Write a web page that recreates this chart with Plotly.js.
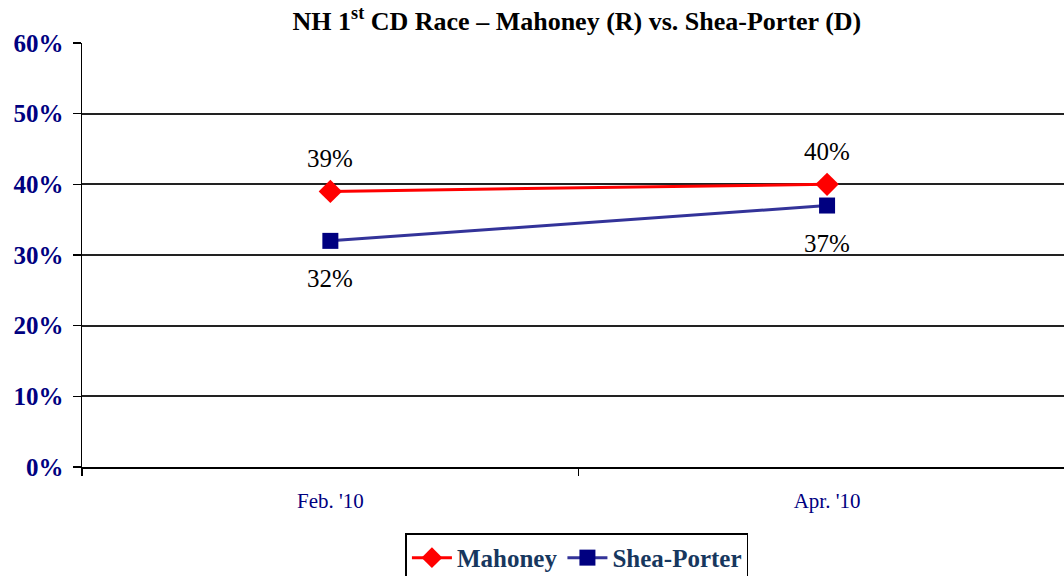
<!DOCTYPE html>
<html><head><meta charset="utf-8">
<script src="https://cdn.plot.ly/plotly-3.0.1.min.js"></script>
<style>body{margin:0;background:#fff}#c{width:1064px;height:576px}</style>
</head><body><div id="c"></div>
<script>
var categories = ["Feb. '10", "Apr. '10"];
var mahoney = [39, 40];
var sheaPorter = [32, 37];
var yTicks = [0, 10, 20, 30, 40, 50, 60];
var yTickLabels = ["0%", "10%", "20%", "30%", "40%", "50%", "60%"];

var FONT = "Liberation Serif";
var xIdx = categories.map(function(_, i){ return i; });
var fmt = function(v){ return v + "%"; };

var traces = [
  {x: xIdx, y: mahoney, name: "Mahoney", type: "scatter", mode: "lines+markers",
   line: {color: "#FF0000", width: 3},
   marker: {symbol: "diamond", size: 18, color: "#FF0000"}},
  {x: xIdx, y: sheaPorter, name: "Shea-Porter", type: "scatter", mode: "lines+markers",
   line: {color: "#333399", width: 3},
   marker: {symbol: "square", size: 16, color: "#000080"}}
];

var labelFont = {family: FONT, size: 25, color: "#000"};
var annotations = [];
mahoney.forEach(function(v, i){
  annotations.push({x: xIdx[i], y: v, xref: "x", yref: "y", text: fmt(v), showarrow: false,
                    yshift: 33, font: labelFont});
});
sheaPorter.forEach(function(v, i){
  annotations.push({x: xIdx[i], y: v, xref: "x", yref: "y", text: fmt(v), showarrow: false,
                    yshift: -38, font: labelFont});
});

var layout = {
  width: 1064, height: 576,
  margin: {l: 82, r: 0, t: 43, b: 109},
  paper_bgcolor: "#fff", plot_bgcolor: "#fff",
  hovermode: false,
  annotations: annotations,
  title: {text: "NH 1<sup>st</sup> CD Race – Mahoney (R) vs. Shea-Porter (D)",
          font: {family: FONT, size: 26, color: "#000", weight: "bold"},
          xref: "paper", x: 0.504, xanchor: "center", yref: "container", y: 0.963, yanchor: "middle"},
  xaxis: {range: [-0.5, 1.477], tickvals: xIdx, ticktext: categories,
          showgrid: false, zeroline: false, showline: true, linecolor: "#000", linewidth: 2,
          ticks: "", ticklabelstandoff: 14,
          minor: {tickvals: [-0.5, 0.5], ticks: "outside", ticklen: 7, tickcolor: "#000", tickwidth: 1.5, showgrid: false},
          tickfont: {family: FONT, size: 21, color: "#000080"}},
  yaxis: {range: [0, 60], tickvals: yTicks, ticktext: yTickLabels,
          showgrid: true, gridcolor: "#222", gridwidth: 2, zeroline: false,
          showline: true, linecolor: "#000", linewidth: 1.5,
          ticks: "outside", ticklen: 8, tickcolor: "#000", tickwidth: 1.5, ticklabelstandoff: 4,
          tickfont: {family: FONT, size: 25, color: "#000080", weight: "bold"}},
  showlegend: true,
  legend: {orientation: "h", x: 0.504, xanchor: "center", yref: "container", y: 0.074, yanchor: "top",
           bgcolor: "#fff", bordercolor: "#000", borderwidth: 1.5,
           font: {family: FONT, size: 25, color: "#17375E", weight: "bold"},
           itemwidth: 40, traceorder: "normal"}
};

Plotly.newPlot("c", traces, layout, {displayModeBar: false, staticPlot: true});
</script></body></html>
